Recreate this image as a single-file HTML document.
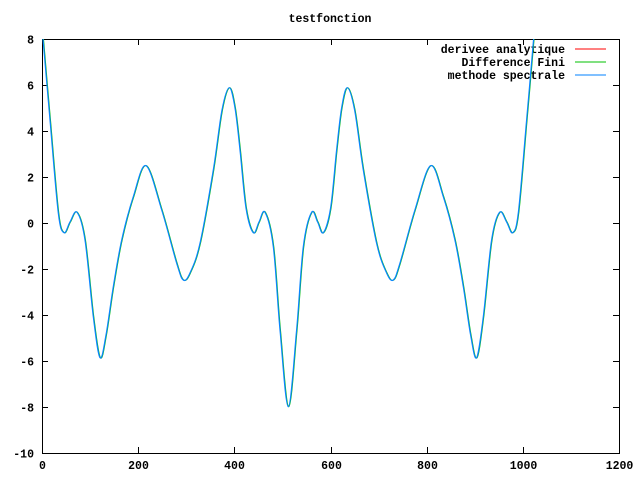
<!DOCTYPE html>
<html><head><meta charset="utf-8"><style>
html,body{margin:0;padding:0;background:#fff;}
svg{display:block;font-family:"Liberation Mono",monospace;font-size:11.5px;font-weight:bold;}
</style></head><body>
<svg id="s" width="640" height="480" xmlns="http://www.w3.org/2000/svg">
<rect x="0" y="0" width="640" height="480" fill="#fff"/>
<g id="axes" stroke="#000" stroke-width="1" fill="none"></g>
<g id="labels" fill="#000"></g>
<text x="330" y="22" text-anchor="middle">testfonction</text>
<g text-anchor="end">
<text x="565" y="53">derivee analytique</text>
<text x="565" y="66">Difference Fini</text>
<text x="565" y="79">methode spectrale</text>
</g>
<line x1="575" y1="49" x2="606" y2="49" stroke="#ff0000"/>
<line x1="575" y1="62" x2="606" y2="62" stroke="#00c000"/>
<line x1="575" y1="75" x2="606" y2="75" stroke="#0080ff"/>
<clipPath id="c"><rect x="42" y="39" width="577" height="414"/></clipPath>
<g clip-path="url(#c)" fill="none">
<path id="pg" stroke="#00c000" stroke-width="1" transform="translate(0.5,0)"/>
<path id="pb" stroke="#0a84ff" stroke-width="1.2"/>
</g>
</svg>
<script>
var ns="http://www.w3.org/2000/svg";
var ax=document.getElementById("axes"),lb=document.getElementById("labels");
function el(p,t,a){var e=document.createElementNS(ns,t);for(var k in a)e.setAttribute(k,a[k]);p.appendChild(e);return e;}
el(ax,"rect",{x:42.5,y:39.5,width:577,height:414});
for(var i=0;i<=6;i++){var x=42+i*96.17;x=Math.round(x)+0.5;
el(ax,"line",{x1:x,y1:453,x2:x,y2:447});el(ax,"line",{x1:x,y1:39,x2:x,y2:45});
var t=el(lb,"text",{x:x,y:469,"text-anchor":"middle"});t.textContent=i*200;}
for(var v=-10;v<=8;v+=2){var y=Math.round(223-23*v)+0.5;
el(ax,"line",{x1:42,y1:y,x2:48,y2:y});el(ax,"line",{x1:619,y1:y,x2:613,y2:y});
var t=el(lb,"text",{x:34,y:y+4,"text-anchor":"end"});t.textContent=v;}
var L=[[43,39],[50,120],[58.3,213],[64,232.7],[70,222],[77,212.3],[85,240],[93.3,316.7],[100,357.7],[106,335],[113.3,286.7],[121.7,240],[133.3,196.7],[146,165.7],[161.7,210],[176.7,263.3],[183.3,280],[190,273],[200,243.3],[213.3,170],[222,110],[229.3,87.7],[235,108],[240,150],[246,208],[253.3,232.7],[259,222],[265,212.3],[273.3,246.7],[280,330],[288.3,406.7]];
var P=L.slice();for(var i=L.length-2;i>=0;i--)P.push([576.6-L[i][0],L[i][1]]);
P.push([545,-100]);
function cr(p){var d="M"+p[0][0]+","+p[0][1];for(var i=0;i<p.length-1;i++){var a=p[Math.max(0,i-1)],b=p[i],c=p[i+1],e=p[Math.min(p.length-1,i+2)];
d+=" C"+(b[0]+(c[0]-a[0])/6)+","+(b[1]+(c[1]-a[1])/6)+" "+(c[0]-(e[0]-b[0])/6)+","+(c[1]-(e[1]-b[1])/6)+" "+c[0]+","+c[1];}return d;}
var d=cr(P);document.getElementById("pb").setAttribute("d",d);document.getElementById("pg").setAttribute("d",d);
</script>
</body></html>
